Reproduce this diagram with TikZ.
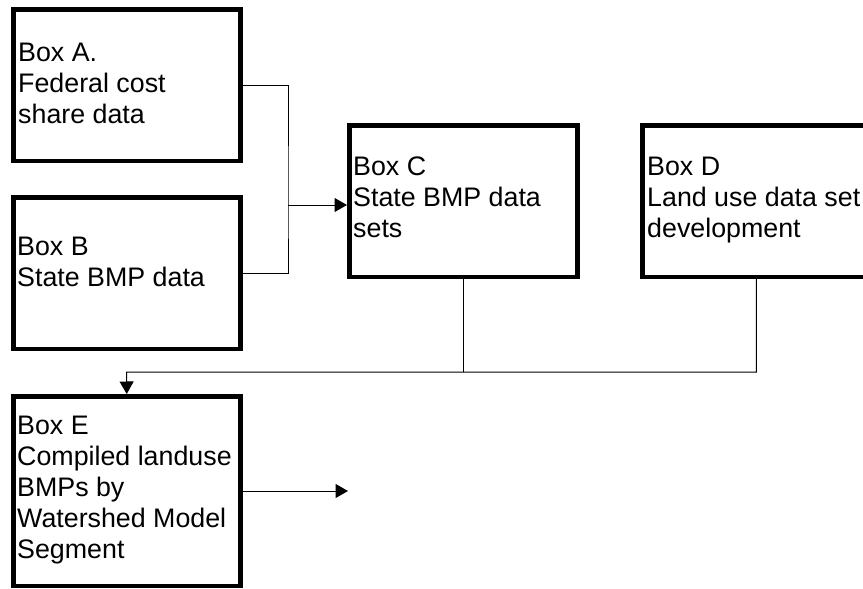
\documentclass[tikz,border=0pt]{standalone}
\usepackage{fontspec}
\setmainfont{Liberation Sans}
\usetikzlibrary{positioning}
\usetikzlibrary{arrows.meta}

\begin{document}
\begin{tikzpicture}[
    box/.style={draw,line width=4.5pt,anchor=north west,minimum width=227pt,minimum height=151.5pt},
    boxtext/.style={inner sep=0pt,align=left,font=\fontsize{26.8}{31}\selectfont},
    link/.style={line width=1pt},
    flow/.style={line width=1pt,-{Triangle[length=12.5pt,width=14pt]}}
]
    \useasboundingbox (0,0) rectangle (863pt,-589pt);
    \clip (0,0) rectangle (863pt,-589pt);

    \node[box] (A) at (11pt,-7pt) {};
    \node[box] (B) at (11pt,-195pt) {};
    \node[box,minimum width=228pt] (C) at (347pt,-123pt) {};
    \node[box,minimum width=228pt] (D) at (640pt,-123pt) {};
    \node[box,minimum height=189.5pt] (E) at (11pt,-394pt) {};

    \node[boxtext,below right=36pt and 7pt of A.north west] (Atext) {Box A.\\Federal cost\\share data};
    \node[boxtext,below right=42pt and 6pt of B.north west] (Btext) {Box B\\State BMP data};
    \node[boxtext,below right=34pt and 6pt of C.north west] (Ctext) {Box C\\State BMP data\\sets};
    \node[boxtext,below right=34pt and 7pt of D.north west] (Dtext) {Box D\\Land use data set\\development};
    \node[boxtext,below right=22pt and 6pt of E.north west] (Etext) {Box E\\Compiled landuse\\BMPs by\\Watershed Model\\Segment};

    \coordinate (jAB) at (288pt,-205pt);
    \coordinate (jE) at (126.5pt,-372pt);
    \coordinate (out) at (348pt,-491pt);

    \draw[link] (A.east) -| (jAB) |- (B.east);
    \draw[flow] (jAB) -- (jAB -| C.west);
    \draw[link] (C.south) -- (C.south |- jE);
    \draw[flow] (D.south) |- (jE) -- (E.north);
    \draw[flow] (E.east) -- (E.east -| out);
\end{tikzpicture}
\end{document}
